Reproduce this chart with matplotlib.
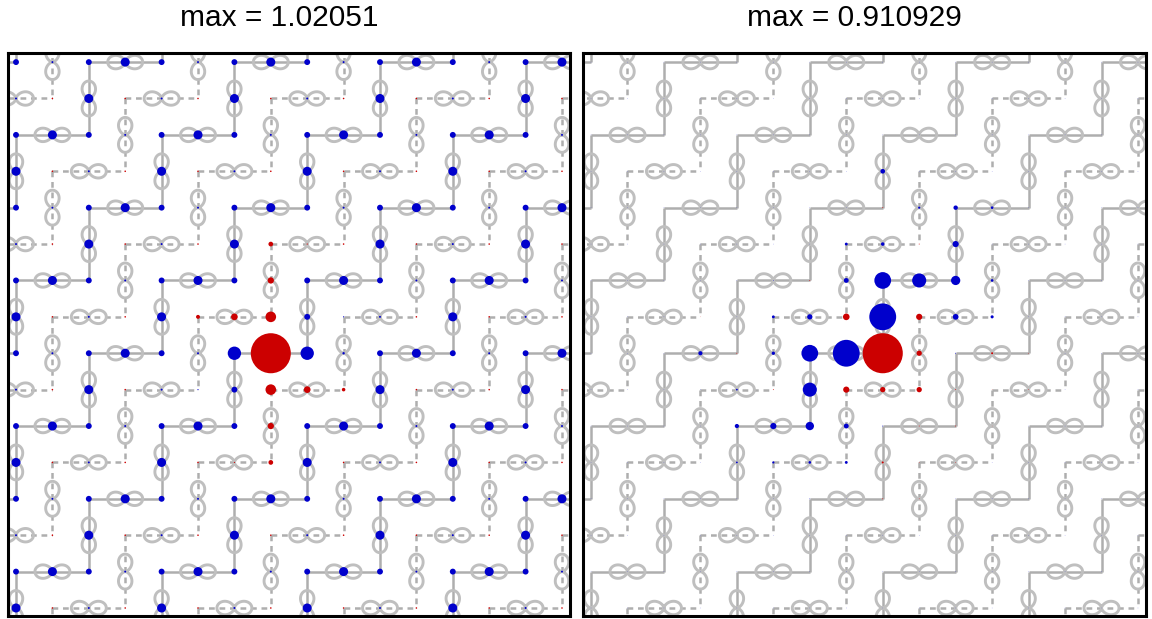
import numpy as np
import matplotlib.pyplot as plt
from matplotlib.patches import Circle
from matplotlib.collections import PatchCollection, LineCollection

# amplitudes on a 16x16 grid, rows = j (top to bottom), columns = i
psi_left = [
    [.15, .05, .15, .23, .15, .05, .15, .23, .15, .05, .15, .23, .15, .05, .15, .23],
    [.05, -.04, .23, -.04, .05, -.04, .23, -.04, .05, -.04, .23, -.04, .05, -.04, .23, -.04],
    [.15, .23, .15, .05, .15, .23, .15, .05, .15, .23, .15, .05, .15, .23, .15, .05],
    [.23, -.04, .05, -.04, .23, -.04, .05, -.04, .23, -.04, .05, -.04, .23, -.04, .05, -.04],
    [.15, .05, .15, .23, .15, .05, .15, .23, .15, .05, .15, .23, .15, .05, .15, .23],
    [.05, -.04, .23, -.04, .05, -.04, .23, -.12, -.03, -.04, .23, -.04, .05, -.04, .23, -.04],
    [.15, .23, .15, .05, .15, .23, .15, -.16, .15, .23, .15, .05, .15, .23, .15, .05],
    [.23, -.04, .05, -.04, .23, -.10, -.17, -.27, .15, .03, .05, -.04, .23, -.04, .05, -.04],
    [.15, .05, .15, .23, .15, .05, .34, -1.02051, .34, .06, .15, .23, .15, .05, .15, .23],
    [.05, -.04, .23, -.04, .05, .03, .15, -.27, -.17, -.09, .23, -.04, .05, -.04, .23, -.04],
    [.15, .23, .15, .05, .15, .23, .15, -.16, .15, .23, .15, .05, .15, .23, .15, .05],
    [.23, -.04, .05, -.04, .23, -.04, -.03, -.12, .23, -.04, .05, -.04, .23, -.04, .05, -.04],
    [.15, .05, .15, .23, .15, .05, .15, .23, .15, .05, .15, .23, .15, .05, .15, .23],
    [.05, -.04, .23, -.04, .05, -.04, .23, -.04, .05, -.04, .23, -.04, .05, -.04, .23, -.04],
    [.15, .23, .15, .05, .15, .23, .15, .05, .15, .23, .15, .05, .15, .23, .15, .05],
    [.23, -.04, .05, -.04, .23, -.04, .05, -.04, .23, -.04, .05, -.04, .23, -.04, .05, -.04],
]

psi_right = [
    [.01, .01, .01, .01, .01, .01, .01, .01, .01, .01, .01, .01, .01, .01, .01, .01],
    [.01, .01, .01, .01, .01, .01, .01, .01, .01, .01, .01, .01, .01, .01, .01, .01],
    [.01, .01, .01, .01, .01, .01, .01, .01, .01, .01, .01, .01, .01, .01, .01, .01],
    [.01, .01, .01, .01, .01, .01, .01, .01, .105, .01, .01, .01, .01, .01, .01, .01],
    [.01, .01, .01, .01, .01, .01, .01, .01, -.02, .05, .10, .06, .01, .01, .01, .01],
    [.01, .01, .01, .01, .01, .01, .01, .065, .08, -.02, .14, .01, .01, .01, .01, .01],
    [.01, .01, .01, .01, .01, .015, -.02, .11, .38, .32, .21, .06, .01, .01, .01, .01],
    [.01, .01, .01, -.01, .01, .065, .12, -.15, .61, -.14, .13, .07, .01, .01, .01, .01],
    [.01, .01, .01, .095, -.02, .075, .38, .61, -.910929, -.12, .02, -.045, -.015, .01, .01, .01],
    [.01, .01, .01, .01, .04, -.02, .32, -.14, -.12, -.12, -.02, -.01, -.015, .01, .01, .01],
    [.01, .01, .01, .01, .095, .14, .19, .11, .02, -.02, -.02, -.01, .01, .01, .01, .01],
    [.01, .01, .01, .01, .04, .05, .06, .065, -.045, -.015, -.015, .01, .01, .01, .01, .01],
    [.01, .01, .01, .01, .01, .01, .015, .01, -.02, -.015, .01, .01, .01, .01, .01, .01],
    [.01, .01, .01, .01, .01, .01, .01, .01, .01, .01, .01, .01, .01, .01, .01, .01],
    [.01, .01, .01, .01, .01, .01, .01, .01, .01, .01, .01, .01, .01, .01, .01, .01],
    [.01, .01, .01, .01, .01, .01, .01, .01, .01, .01, .01, .01, .01, .01, .01, .01],
]

BLUE = '#0000cc'
RED = '#cc0000'
BOND = '#aeaeae'
LOBE = '#bfbfbf'
R_MAX = 0.55   # disk radius of the largest amplitude, in lattice units

# p-orbital outline, polar curve r = a cos^2(theta)
_t = np.linspace(0, 2 * np.pi, 161)
LOB_X = 0.48 * np.cos(_t) ** 3
LOB_Y = 0.48 * np.cos(_t) ** 2 * np.sin(_t)


def draw_state(ax, psi):
    psi = np.asarray(psi)
    n = psi.shape[0]
    solid, dashed, lobes = [], [], []
    # p orbitals sit on sites with i+j odd; corners (even,even) carry the
    # solid chains, corners (odd,odd) the dashed ones
    for j in range(-1, n + 1):
        for i in range(-1, n + 1):
            if (i + j) % 2 == 0:
                continue
            vertical = (i - j) % 4 == 1
            if vertical:
                seg = [(i, j - 1), (i, j + 1)]
                on_a = i % 2 == 0
                lobes.append(np.column_stack([i + LOB_Y, j + LOB_X]))
            else:
                seg = [(i - 1, j), (i + 1, j)]
                on_a = j % 2 == 0
                lobes.append(np.column_stack([i + LOB_X, j + LOB_Y]))
            (solid if on_a else dashed).append(seg)

    ax.add_collection(LineCollection(solid, colors=BOND, linewidths=1.8, zorder=1))
    ax.add_collection(LineCollection(dashed, colors=BOND, linewidths=1.8,
                                     linestyles=[(0, (2.3, 1.9))], zorder=1))
    ax.add_collection(LineCollection(lobes, colors=LOBE, linewidths=2.1, zorder=2))

    vmax = np.abs(psi).max()
    disks, cols = [], []
    for j in range(n):
        for i in range(n):
            v = psi[j, i]
            if v == 0:
                continue
            disks.append(Circle((i, j), R_MAX * abs(v) / vmax))
            cols.append(BLUE if v > 0 else RED)
    ax.add_collection(PatchCollection(disks, facecolor=cols, edgecolor='none', zorder=3))

    ax.set_xlim(-0.22, n - 0.78)
    ax.set_ylim(n - 0.78, -0.25)
    ax.set_xticks([])
    ax.set_yticks([])
    for sp in ax.spines.values():
        sp.set_linewidth(2.2)
        sp.set_color('black')
    return vmax


plt.rcParams['font.family'] = ['Liberation Sans', 'DejaVu Sans']

fig = plt.figure(figsize=(11.52, 6.19), dpi=100)
ax1 = fig.add_axes([8 / 1152, 3 / 619, 562 / 1152, 563 / 619])
ax2 = fig.add_axes([583 / 1152, 3 / 619, 563 / 1152, 563 / 619])

for ax, psi in ((ax1, psi_left), (ax2, psi_right)):
    vmax = draw_state(ax, psi)
    bb = ax.get_position()
    fig.text((bb.x0 + bb.x1) / 2 - 10 / 1152, 1 - 18 / 619, 'max = %g' % vmax,
             ha='center', va='center', fontsize=21.5)

fig.savefig('out.png', dpi=100)
